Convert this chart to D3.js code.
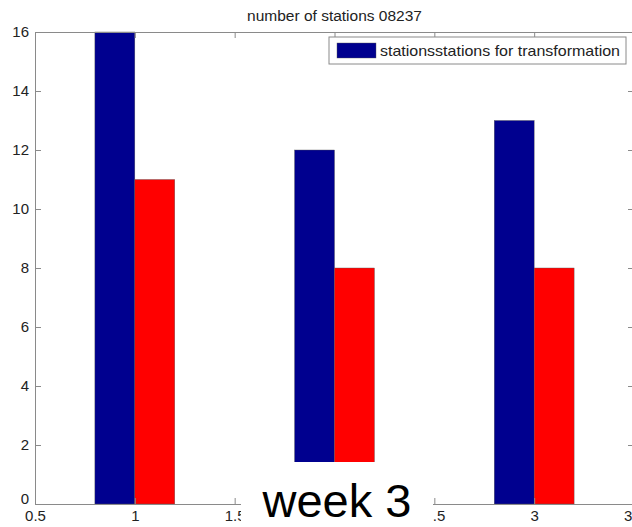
<!DOCTYPE html>
<html>
<head>
<meta charset="utf-8">
<script src="https://cdn.jsdelivr.net/npm/d3@7"></script>
<style>
  html, body { margin: 0; padding: 0; background: #fff; }
  svg { display: block; font-family: "Liberation Sans", Arial, Helvetica, sans-serif; }
</style>
</head>
<body>
<svg id="chart" width="632" height="527"></svg>
<script>
// Weekly station counts per group
const groups = [1, 2, 3];
const stations = [16, 12, 13];
const transformation = [11, 8, 8];
const xTicks = [0.5, 1, 1.5, 2, 2.5, 3, 3.5];
const yTicks = [0, 2, 4, 6, 8, 10, 12, 14, 16];
const seriesNames = ["stations", "stations for transformation"];
const seriesColors = ["#00008f", "#ff0000"];
const titleText = "number of stations 08237";
const captionText = "week 3";

const svg = d3.select("#chart");
const plotLeft = 35, plotRight = 634, plotTop = 32, plotBottom = 504;

const x = d3.scaleLinear().domain([0.5, 3.5]).range([plotLeft, plotRight]);
const y = d3.scaleLinear().domain([0, 16]).range([plotBottom, plotTop]);
const barW = 0.2;
const axisColor = "#8a8a8a";
const textColor = "#222";

// bars
const seriesData = [stations, transformation];
seriesData.forEach((vals, si) => {
  svg.append("g").selectAll("rect")
    .data(groups.map((g, i) => ({ g, v: vals[i] })))
    .join("rect")
    .attr("x", d => x(d.g - barW + si * barW))
    .attr("width", d => x(d.g + barW) - x(d.g))
    .attr("y", d => y(d.v))
    .attr("height", d => y(0) - y(d.v))
    .attr("fill", seriesColors[si])
    .attr("stroke", "#555")
    .attr("stroke-width", 0.4);
});

// axes box with inward ticks
function styleAxis(g) {
  g.selectAll("path").attr("stroke", axisColor);
  g.selectAll("line").attr("stroke", axisColor);
  g.selectAll("text").attr("fill", textColor).attr("font-size", 15)
    .attr("font-family", "Liberation Sans, Arial, sans-serif");
}
const gBottom = svg.append("g").attr("transform", `translate(0,${plotBottom})`)
  .call(d3.axisBottom(x).tickValues(xTicks).tickSizeInner(-6).tickSizeOuter(0).tickPadding(6)
    .tickFormat(d3.format("")));
styleAxis(gBottom);
const gTop = svg.append("g").attr("transform", `translate(0,${plotTop})`)
  .call(d3.axisTop(x).tickValues(xTicks).tickSizeInner(-6).tickSizeOuter(0).tickFormat(""));
styleAxis(gTop);
const gLeft = svg.append("g").attr("transform", `translate(${plotLeft},0)`)
  .call(d3.axisLeft(y).tickValues(yTicks).tickSizeInner(-6).tickSizeOuter(0).tickPadding(6));
styleAxis(gLeft);
gLeft.selectAll(".tick text").attr("dy", d => d === 0 ? "-0.05em" : "0.32em");
const gRight = svg.append("g").attr("transform", `translate(${plotRight},0)`)
  .call(d3.axisRight(y).tickValues(yTicks).tickSizeInner(-6).tickSizeOuter(0).tickFormat(""));
styleAxis(gRight);

// title
svg.append("text")
  .attr("x", (plotLeft + plotRight) / 2).attr("y", 21)
  .attr("text-anchor", "middle")
  .attr("font-size", 15.5).attr("fill", textColor)
  .text(titleText);

// legend
const lg = svg.append("g");
lg.append("rect").attr("x", 329).attr("y", 37).attr("width", 297).attr("height", 27)
  .attr("fill", "#fff").attr("stroke", axisColor).attr("stroke-width", 1);
lg.append("rect").attr("x", 337).attr("y", 43).attr("width", 39).attr("height", 15)
  .attr("fill", seriesColors[0]).attr("stroke", "#555").attr("stroke-width", 0.4);
lg.append("text").attr("x", 380).attr("y", 56)
  .attr("font-size", 15).attr("fill", textColor)
  .attr("textLength", 240).attr("lengthAdjust", "spacingAndGlyphs")
  .text(seriesNames.join(""));

// caption panel over the lower middle
svg.append("rect").attr("x", 241).attr("y", 462).attr("width", 192).attr("height", 65)
  .attr("fill", "#fff");
svg.append("text")
  .attr("x", 337).attr("y", 517)
  .attr("text-anchor", "middle")
  .attr("font-size", 47).attr("fill", "#000")
  .text(captionText);
</script>
</body>
</html>
